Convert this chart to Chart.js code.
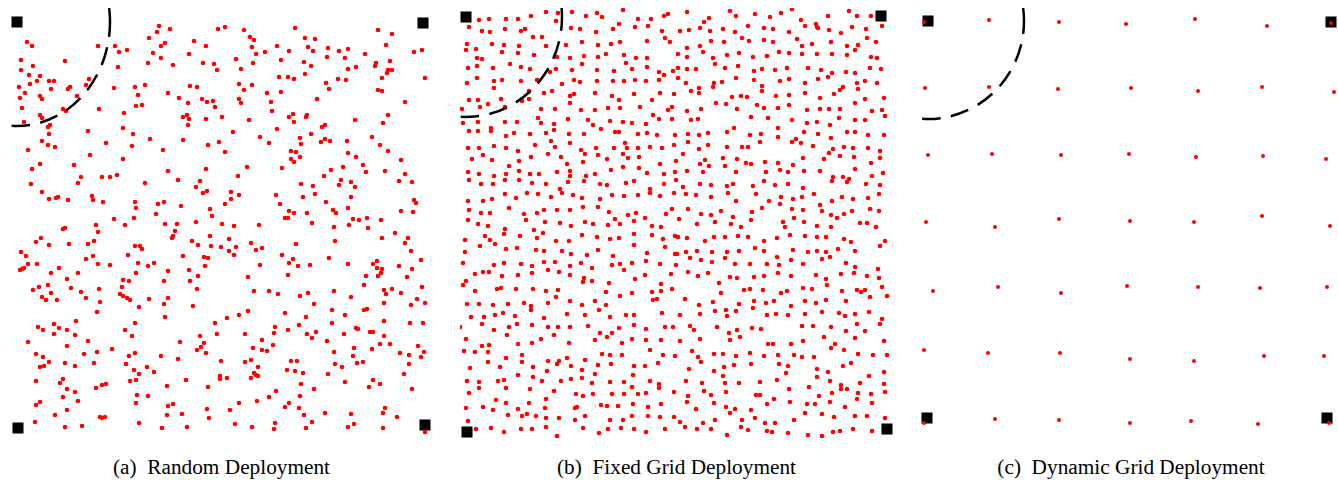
<!DOCTYPE html>
<html>
<head>
<meta charset="utf-8">
<script src="https://cdn.jsdelivr.net/npm/chart.js@4.4.1/dist/chart.umd.min.js"></script>
<style>
    body { margin: 0; background: #fff; width: 1338px; height: 480px; position: relative; overflow: hidden; }
    canvas { position: absolute; }
    .cap { position: absolute; top: 457px; font: 21.3px "Liberation Serif", "Times New Roman", serif; line-height: 21px; color: #000; white-space: nowrap; transform: translateX(-50%); }
</style>
</head>
<body>
<canvas id="chartA" width="430" height="432" style="left:7px;top:8px"></canvas>
<canvas id="chartB" width="440" height="432" style="left:460px;top:8px"></canvas>
<canvas id="chartC" width="420" height="432" style="left:920px;top:8px"></canvas>
<div class="cap" id="capA" style="left:221.5px"></div>
<div class="cap" id="capB" style="left:676.5px"></div>
<div class="cap" id="capC" style="left:1131px"></div>
<script>
// --- Data (field units, y grows downwards) ---
const subLabels = ['(a)', '(b)', '(c)'];
const captions = ['Random Deployment', 'Fixed Grid Deployment', 'Dynamic Grid Deployment'];

// sinks sit at the four corners of each field
const sinksA = [[17,22],[423,23],[18,428],[425,425]];
const sinksB = [[11,17],[426,16],[12,432],[432,429]];
const sinksC = [[18,21],[421,22],[17,418],[417,418]];

// communication range of the top-left sink (x radius, y radius)
const rangeA = [93, 104];
const rangeB = [96, 100];
const rangeC = [96, 98];

const nodesA = [
[159,26],[157,32],[170,29],[149,38],
[27,42],[32,46],[98,46],[115,46],[119,52],[127,50],[161,46],[165,43],[194,41],[206,46],
[153,53],[161,58],[189,54],[21,60],[65,61],[33,66],[21,70],[148,63],[173,65],[118,67],[203,63],[214,64],[217,70],
[29,75],[40,76],[37,81],[49,81],[54,81],[89,79],[30,84],[19,87],[51,89],[68,89],[70,87],[86,85],[114,88],[135,87],[145,85],[190,86],[197,87],
[25,93],[20,98],[40,96],[42,99],[77,96],[138,95],[168,93],[179,98],[202,99],[207,102],[213,101],[188,103],[136,106],[142,105],[215,107],
[22,108],[63,109],[66,111],[99,109],[124,113],[40,115],[42,118],[183,117],[187,115],[189,119],[206,119],[188,125],
[24,122],[50,125],[48,127],[123,128],[88,131],[133,134],[49,134],
[42,141],[48,145],[55,147],[106,143],[150,139],[183,140],[132,146],[208,145],[163,150],[28,150],
[90,155],[123,159],[40,164],[32,169],[74,165],[206,169],[168,171],
[81,177],[78,183],[102,177],[110,177],[117,175],[178,180],[200,181],[196,187],[31,184],[145,183],
[42,192],[203,193],[207,191],
[49,199],[56,198],[58,197],[68,200],[92,196],[93,200],[103,202],[135,202],[164,202],[158,204],[181,206],[210,209],
[136,208],[156,214],[212,216],
[218,29],[225,27],[244,30],[250,37],[254,40],[252,47],[256,54],[265,52],[236,59],[241,69],[253,63],[277,46],[281,60],[289,51],[295,28],[305,38],[315,39],[308,47],[313,51],[304,62],[311,66],[328,48],[339,51],[348,49],[327,57],[345,58],[348,69],[356,67],[365,54],[378,30],[392,34],[386,45],[376,63],[375,66],[390,61],[388,70],[392,70],[387,73],[382,78],[414,52],[422,50],[425,78],
[239,84],[244,90],[252,85],[279,77],[288,77],[294,79],[305,74],[326,83],[329,89],[338,79],[346,80],[267,93],[281,92],[271,102],[272,111],[317,99],[378,90],[382,91],[405,102],
[239,99],[241,103],[222,117],[249,120],[289,117],[293,114],[294,122],[306,117],[307,115],[277,129],[322,127],[325,125],[355,120],[383,123],[388,115],
[233,132],[219,142],[225,152],[260,137],[269,143],[300,138],[301,144],[311,134],[321,142],[325,139],[330,141],[347,141],[372,137],[380,145],[388,151],[348,153],[356,157],[291,151],[296,152],[300,157],[291,159],[294,162],
[247,167],[238,176],[282,168],[324,176],[331,170],[343,167],[363,165],[366,172],[385,171],[401,160],[405,174],[399,181],[412,182],[301,184],[313,186],[341,180],[339,185],[351,182],[355,187],
[231,192],[231,199],[239,195],[276,195],[303,197],[315,194],[326,202],[351,197],[414,200],[416,203],[225,204],[280,204],
[289,211],[294,213],[307,213],[333,210],[336,213],[348,208],[401,211],[413,212],
[114,219],[134,218],[125,225],[96,225],[98,232],[65,228],[63,229],[36,242],[41,238],[49,245],[69,244],[88,244],[94,241],[165,224],[177,224],[175,231],[173,236],[172,238],[196,222],[210,236],[192,241],[198,245],[211,246],
[21,252],[26,256],[28,264],[37,264],[20,270],[24,268],[22,269],[51,273],[59,268],[78,273],[86,259],[93,256],[98,264],[110,265],[128,255],[135,246],[140,246],[142,249],[138,263],[148,266],[154,263],[136,273],[183,256],[204,257],[208,258],[205,266],[189,270],[198,276],[190,281],[168,271],[164,281],
[33,290],[39,287],[48,285],[51,293],[42,297],[46,300],[57,300],[67,279],[71,288],[81,292],[86,298],[99,289],[100,302],[97,312],[123,280],[129,281],[122,287],[120,294],[123,296],[127,298],[130,300],[139,307],[149,299],[168,298],[164,304],[165,317],[197,289],[193,306],
[38,327],[43,330],[54,324],[54,334],[59,328],[67,330],[76,321],[75,335],[88,341],[67,346],[28,342],[36,354],[43,357],[49,362],[40,367],[44,366],[65,363],[75,366],[84,354],[94,363],[97,352],[112,349],[126,364],[129,356],[135,353],[125,330],[132,336],[135,323],[134,370],[139,374],[147,367],[154,372],[161,356],[178,359],[180,342],[200,336],[204,343],[201,347],[197,350],[206,353],[215,323],
[36,381],[63,379],[60,383],[67,389],[75,392],[63,397],[78,401],[96,388],[102,385],[106,384],[130,381],[136,380],[137,395],[148,396],[136,403],[167,386],[186,380],[208,387],
[36,405],[40,402],[67,410],[55,415],[35,422],[65,427],[82,426],[100,417],[102,418],[105,417],[139,423],[162,428],[168,406],[173,404],[167,415],[182,414],[187,427],[207,409],[209,418],
[285,218],[288,218],[312,223],[334,227],[349,225],[353,219],[359,220],[367,218],[368,228],[381,220],[222,224],[234,226],[259,225],
[229,239],[221,247],[229,251],[234,255],[236,247],[251,243],[256,250],[262,248],[296,244],[335,241],[382,238],[395,233],[408,238],[405,243],[411,251],
[282,255],[289,263],[293,259],[298,266],[288,275],[310,265],[329,258],[348,264],[373,264],[377,261],[377,268],[382,269],[381,273],[378,276],[366,276],[399,266],[412,269],[421,260],[407,277],[260,265],[248,277],
[254,291],[269,291],[278,294],[300,296],[308,293],[314,304],[334,291],[351,297],[364,285],[384,290],[386,294],[392,289],[401,293],[384,303],[411,305],[417,299],[422,287],[425,303],
[227,318],[239,315],[248,311],[285,313],[306,317],[332,310],[345,315],[364,310],[367,309],[217,334],[245,334],[274,333],[275,327],[288,330],[299,325],[307,334],[316,332],[312,338],[332,323],[344,334],[356,328],[358,329],[370,332],[373,332],[384,321],[384,336],[390,344],[380,344],[410,323],[423,323],
[262,340],[253,348],[262,350],[267,351],[273,345],[327,341],[334,352],[353,356],[354,348],[372,349],[400,353],[409,355],[418,346],[424,352],[421,357],[409,364],
[221,361],[245,362],[251,360],[258,367],[254,373],[256,375],[258,376],[251,378],[291,361],[297,361],[287,370],[295,371],[303,373],[335,364],[342,367],[357,363],[363,362],[328,374],[345,382],[373,380],[369,387],[380,384],[404,374],[412,389],
[220,376],[220,379],[227,378],[301,384],[314,389],[276,391],[269,397],[300,396],[257,401],[239,403],[230,410],[285,407],[289,403],[299,408],[304,415],[325,413],[351,414],[385,408],[383,413],[397,417],
[235,424],[252,427],[275,423],[274,429],[306,428],[312,422],[348,427],[354,424],[383,428],[425,432]
];

const nodesB = [
[24,20],[34,19],[51,19],[63,19],[76,16],[91,12],[101,21],[103,13],[117,12],[131,16],[142,13],[147,17],[168,10],[183,19],[196,19],[209,16],[213,14],
[14,27],[27,31],[35,32],[50,29],[66,31],[70,29],[116,28],[125,29],[141,32],[158,29],[164,24],[180,27],[193,26],[207,31],
[12,44],[11,50],[21,49],[37,44],[49,45],[64,46],[78,37],[87,37],[91,46],[111,45],[127,42],[143,45],[156,44],[165,42],[192,41],[210,38],[215,42],
[27,59],[22,58],[47,52],[63,53],[79,55],[102,57],[115,58],[129,56],[143,57],[151,54],[169,55],[181,58],[192,58],[171,63],
[13,68],[22,66],[38,68],[55,64],[66,67],[75,69],[95,72],[101,69],[117,70],[127,64],[142,70],[159,71],[177,69],[192,67],[204,72],[218,71],
[12,83],[22,78],[39,81],[39,88],[47,80],[66,81],[82,80],[107,84],[119,80],[125,82],[142,81],[158,81],[169,81],[180,80],[191,81],[204,80],[209,75],
[14,100],[23,100],[46,99],[67,101],[74,99],[74,91],[89,93],[97,91],[115,96],[119,94],[140,93],[157,96],[164,100],[179,94],[197,100],[205,93],[219,94],
[7,109],[25,107],[33,104],[50,107],[86,109],[100,109],[115,103],[126,110],[140,110],[153,108],[165,108],[185,107],[198,115],[213,110],[217,107],
[8,123],[23,122],[36,128],[50,122],[62,122],[83,118],[86,123],[99,124],[113,119],[133,120],[138,125],[146,129],[155,121],[168,122],[177,123],[191,124],[204,119],[217,119],
[14,131],[23,131],[36,131],[51,136],[59,133],[75,134],[91,133],[99,130],[114,134],[129,134],[160,132],[164,132],[183,134],[192,133],[202,135],
[13,148],[24,148],[39,146],[51,148],[63,151],[80,145],[96,141],[100,147],[115,143],[126,150],[130,154],[141,148],[143,155],[159,148],[170,143],[172,148],[183,148],[195,147],[207,148],[219,145],
[17,159],[28,155],[37,160],[64,161],[76,157],[93,154],[106,157],[112,164],[128,162],[152,159],[168,154],[173,158],[184,157],[205,164],
[13,172],[24,174],[39,176],[51,174],[54,166],[64,171],[75,174],[84,174],[102,172],[115,171],[115,176],[131,176],[140,174],[156,170],[168,167],[184,168],[192,173],[209,174],[220,172],
[14,180],[26,184],[38,184],[50,180],[64,180],[77,183],[91,184],[113,182],[129,181],[145,184],[152,185],[171,183],[179,181],[209,184],
[13,201],[28,201],[37,199],[50,194],[61,198],[72,193],[83,194],[96,197],[105,189],[107,193],[118,195],[127,198],[145,199],[157,195],[169,196],[183,195],[195,189],[195,193],[205,196],[219,193],
[14,210],[26,213],[35,213],[54,208],[69,214],[82,213],[89,210],[102,210],[115,210],[128,207],[143,207],[154,212],[160,219],[173,215],[181,213],[190,218],[211,214],[217,209],
[232,12],[275,11],[281,16],[300,14],[315,17],[326,13],[337,9],[346,20],[350,26],[361,24],[362,27],[373,16],[394,11],[402,16],[416,16],[427,26],
[225,31],[234,30],[245,28],[249,22],[254,18],[255,31],[268,29],[280,32],[287,38],[293,26],[294,41],[309,28],[309,40],[318,29],[318,42],[334,32],[342,39],[347,46],[357,44],[363,28],[374,30],[376,42],[386,33],[397,27],[411,29],[412,38],[421,42],[403,45],[392,46],[400,50],
[223,54],[232,48],[232,57],[245,46],[248,52],[256,41],[258,58],[260,64],[269,42],[272,55],[284,53],[298,57],[312,56],[324,52],[334,53],[347,54],[362,54],[377,54],[392,55],[416,57],[422,58],
[223,68],[232,69],[241,69],[270,68],[283,66],[299,71],[307,69],[320,70],[332,68],[353,68],[366,70],[377,73],[373,77],[391,72],[400,73],[415,68],[426,69],
[223,78],[231,83],[236,91],[244,88],[244,93],[258,87],[259,83],[267,82],[281,78],[299,80],[307,86],[307,91],[325,81],[334,79],[350,83],[350,93],[363,79],[379,94],[385,90],[388,87],[402,83],[403,89],[410,81],[422,83],
[232,111],[236,120],[246,109],[243,119],[261,103],[271,104],[277,97],[286,96],[292,97],[282,109],[302,105],[309,108],[296,117],[313,118],[321,96],[323,108],[334,95],[334,105],[337,120],[352,110],[352,123],[362,122],[365,98],[365,109],[374,109],[375,125],[384,118],[385,109],[400,103],[400,120],[410,99],[410,120],[417,111],[427,110],[430,116],[429,98],
[220,135],[233,134],[233,142],[244,135],[253,133],[244,149],[253,145],[272,132],[272,147],[279,128],[295,135],[287,147],[293,147],[305,142],[306,134],[323,128],[323,137],[337,142],[341,139],[346,143],[349,132],[358,146],[363,134],[376,138],[378,149],[374,153],[385,156],[389,147],[392,132],[400,132],[398,148],[399,157],[413,135],[413,148],[425,151],[425,158],[429,135],
[221,161],[228,154],[232,171],[245,164],[248,172],[250,160],[254,166],[268,158],[270,166],[282,159],[281,172],[291,163],[296,164],[310,162],[311,172],[323,163],[325,170],[333,172],[338,165],[348,158],[349,171],[365,171],[369,159],[377,181],[378,177],[388,177],[392,182],[394,179],[400,169],[416,163],[417,176],[428,173],
[221,180],[228,187],[231,194],[245,184],[256,185],[256,197],[241,195],[272,186],[273,193],[278,184],[281,201],[298,186],[301,194],[309,181],[320,185],[326,197],[333,184],[338,199],[348,188],[347,197],[359,194],[365,205],[377,201],[387,197],[398,199],[411,184],[413,198],[425,185],[424,194],
[233,209],[224,219],[246,214],[256,215],[266,211],[278,217],[297,212],[307,208],[314,201],[325,204],[337,209],[339,218],[348,210],[367,211],[376,215],[382,218],[389,214],[397,211],[415,209],[424,211],
[13,220],[23,224],[33,226],[50,229],[71,220],[90,222],[105,223],[116,226],[130,222],[138,224],[153,225],[165,224],[179,221],[197,226],[206,227],
[30,236],[35,240],[40,244],[49,234],[65,236],[79,230],[88,233],[82,238],[10,240],[25,246],[51,249],[62,248],[81,250],[89,251],[101,241],[107,251],[114,241],[116,254],[127,235],[142,237],[143,250],[155,239],[164,238],[179,245],[179,234],[197,235],[208,239],[210,247],[220,236],
[10,252],[8,263],[11,281],[8,285],[20,274],[28,272],[34,272],[39,265],[49,263],[47,276],[63,275],[66,264],[77,266],[77,273],[89,262],[100,262],[93,270],[104,272],[115,266],[115,275],[126,263],[137,268],[132,255],[129,278],[128,282],[137,281],[158,256],[157,265],[165,264],[169,270],[177,263],[191,261],[192,253],[205,264],[220,254],[216,274],[206,284],[190,275],[180,279],[154,283],
[20,291],[42,289],[46,288],[61,289],[78,289],[91,291],[103,290],[101,297],[115,301],[127,305],[140,301],[151,305],[151,292],[165,296],[177,293],[197,292],[206,291],[198,300],[202,299],[217,289],[12,304],[24,304],[38,305],[53,304],[69,303],[76,306],[76,310],[93,303],[16,317],[29,317],[40,315],[48,313],[60,316],[62,324],[54,327],[27,324],[39,330],[77,325],[89,318],[93,327],[99,335],[103,327],[112,314],[115,327],[130,315],[133,326],[144,310],[155,317],[171,315],[179,315],[164,328],[145,333],[157,333],[152,337],[179,325],[191,329],[207,313],[210,327],[218,327],[5,327],
[11,339],[9,351],[20,352],[27,346],[34,345],[33,352],[33,362],[52,335],[51,358],[45,367],[63,344],[67,355],[67,362],[77,343],[86,339],[78,367],[93,361],[102,364],[104,361],[114,343],[112,358],[116,366],[130,360],[127,370],[140,340],[147,354],[155,355],[156,364],[143,365],[167,343],[167,355],[177,339],[179,366],[191,340],[195,350],[206,340],[208,355],[203,363],[190,366],[220,356],[15,368],
[12,381],[24,382],[24,388],[14,393],[43,381],[49,380],[51,388],[63,375],[78,377],[87,381],[75,389],[92,371],[106,381],[99,391],[116,379],[127,378],[140,374],[137,383],[155,382],[169,382],[177,387],[178,375],[195,381],[204,384],[204,388],[191,393],[219,392],[41,400],[51,403],[74,403],[91,399],[121,394],[128,396],[138,394],[157,394],[169,394],[183,394],[11,408],[28,407],[38,410],[53,415],[63,409],[67,416],[72,414],[81,416],[90,408],[91,418],[104,418],[120,408],[122,407],[120,420],[130,416],[146,405],[152,406],[163,406],[155,420],[168,420],[177,416],[178,404],[193,407],[193,416],[206,404],[205,417],[219,417],
[13,421],[21,429],[36,428],[49,432],[66,429],[77,429],[91,427],[102,436],[128,428],[144,433],[153,429],[166,428],[179,429],[191,432],[210,429],
[242,224],[260,222],[276,224],[286,227],[296,220],[328,222],[330,227],[349,222],[362,226],[376,227],[405,223],[412,223],[421,227],
[223,237],[232,238],[250,241],[259,237],[270,237],[283,236],[293,237],[309,241],[322,238],[335,235],[350,236],[362,237],[371,237],[389,239],[396,242],[430,241],[425,246],
[222,254],[231,252],[235,258],[242,251],[246,260],[257,252],[257,262],[272,252],[270,258],[284,251],[280,264],[295,264],[300,248],[309,251],[312,264],[322,257],[324,265],[338,250],[336,260],[348,264],[353,252],[362,251],[371,252],[367,259],[375,257],[383,249],[391,263],[400,251],[400,267],[412,276],[423,269],[424,278],
[221,265],[233,272],[243,276],[253,273],[264,283],[266,293],[275,277],[282,278],[289,290],[295,289],[299,277],[308,290],[309,276],[323,273],[326,293],[332,291],[336,276],[348,288],[357,289],[361,275],[371,279],[372,285],[386,274],[387,291],[399,273],[402,290],[406,292],[410,290],[415,297],[427,287],[432,296],
[230,299],[244,305],[245,314],[258,302],[260,311],[271,310],[272,316],[281,311],[284,304],[299,301],[298,308],[311,303],[319,301],[312,315],[321,314],[333,315],[336,306],[350,301],[350,314],[361,303],[371,300],[367,312],[384,313],[391,301],[390,316],[400,314],[414,312],[427,319],[425,324],[225,315],
[235,326],[239,330],[245,339],[262,327],[274,333],[282,330],[285,337],[275,340],[297,328],[306,329],[313,344],[318,344],[336,344],[347,326],[348,341],[358,326],[369,337],[376,327],[376,348],[380,344],[391,331],[402,324],[400,338],[410,331],[429,341],[225,341],
[237,351],[243,357],[246,362],[259,354],[268,354],[281,356],[269,367],[279,365],[295,353],[296,364],[309,356],[323,355],[324,364],[333,366],[339,355],[347,357],[359,357],[331,373],[362,369],[362,377],[373,372],[389,350],[388,366],[396,363],[403,354],[418,355],[432,355],[414,376],[429,372],[234,369],[259,371],[268,376],[247,383],[231,381],[270,383],[284,383],[305,382],[322,380],[354,387],[375,381],[386,385],[386,389],[405,383],[429,384],
[233,396],[232,402],[249,391],[256,395],[259,403],[271,392],[271,407],[280,409],[301,395],[305,395],[296,410],[312,404],[319,399],[334,389],[335,402],[352,404],[360,404],[364,396],[377,393],[375,402],[392,389],[402,399],[403,393],[416,394],[417,403],[430,392],[241,409],[275,413],[287,420],[300,418],[310,423],[320,423],[339,420],[350,413],[367,414],[379,417],[390,407],[400,416],[412,416],[430,418],
[225,422],[230,427],[242,429],[248,423],[256,429],[260,420],[272,435],[286,427],[293,430],[312,431],[317,432],[333,433],[353,435],[367,436],[378,432],[385,431],[398,429],[417,431]
];

const nodesC = [
[14,22],[79,20],[149,22],[216,24],[285,19],[357,26],[421,23],
[15,88],[79,87],[148,89],[221,88],[288,91],[352,87],[424,92],
[18,155],[82,154],[151,155],[219,154],[286,157],[353,156],[416,159],
[16,222],[85,227],[149,219],[220,221],[284,222],[352,216],[420,226],
[23,291],[88,287],[151,293],[217,286],[288,287],[350,288],[417,287],
[14,350],[78,353],[150,353],[220,359],[284,361],[354,356],[414,356],
[14,423],[85,419],[149,420],[220,423],[281,421],[348,424],[419,423]
];

// dashed range circle around the first sink, clipped to the plot box
const rangeArc = {
    id: 'rangeArc',
    afterDatasetsDraw(chart, args, opts) {
        if (!opts.radius) return;
        const { ctx, chartArea: a, scales: { x, y } } = chart;
        const cx = x.getPixelForValue(opts.center[0]);
        const cy = y.getPixelForValue(opts.center[1]);
        const rx = Math.abs(x.getPixelForValue(opts.center[0] + opts.radius[0]) - cx);
        const ry = Math.abs(y.getPixelForValue(opts.center[1] + opts.radius[1]) - cy);
        const start = Math.asin(Math.max(-1, Math.min(1, (a.top - cy) / ry)));
        const end = Math.acos(Math.max(-1, Math.min(1, (a.left - cx) / rx)));
        const pattern = [opts.firstDash];
        for (let i = 0; i < 12; i++) pattern.push(opts.gap, opts.dash);

        ctx.save();
        ctx.beginPath();
        ctx.rect(a.left, a.top, a.width, a.height);
        ctx.clip();
        ctx.beginPath();
        ctx.ellipse(cx, cy, rx, ry, 0, start, end);
        ctx.setLineDash(pattern);
        ctx.lineWidth = opts.width;
        ctx.strokeStyle = '#000';
        ctx.stroke();
        ctx.restore();
    }
};

function makePanel(canvasId, nodes, sinks, range, view, dotRadius, firstDash) {
    const toXY = p => ({ x: p[0], y: p[1] });
    return new Chart(document.getElementById(canvasId), {
        type: 'scatter',
        data: {
            datasets: [
                {
                    data: nodes.map(toXY),
                    backgroundColor: '#ff0000',
                    borderWidth: 0,
                    pointRadius: dotRadius,
                    clip: false
                },
                {
                    data: sinks.map(toXY),
                    pointStyle: 'rect',
                    pointRadius: 7.8,
                    backgroundColor: '#000',
                    borderWidth: 0,
                    clip: false
                }
            ]
        },
        options: {
            responsive: false,
            animation: false,
            events: [],
            layout: { padding: 0, autoPadding: false },
            scales: {
                x: { type: 'linear', display: false, min: view[0], max: view[1] },
                y: { type: 'linear', display: false, reverse: true, min: view[2], max: view[3] }
            },
            plugins: {
                legend: { display: false },
                tooltip: { enabled: false },
                rangeArc: { center: sinks[0], radius: range, firstDash: firstDash, dash: 18.5, gap: 10.5, width: 2.5 }
            }
        },
        plugins: [rangeArc]
    });
}

makePanel('chartA', nodesA, sinksA, rangeA, [7, 437, 8, 440], 2.3, 29);
makePanel('chartB', nodesB, sinksB, rangeB, [5, 445, 8, 440], 2.3, 23);
makePanel('chartC', nodesC, sinksC, rangeC, [10, 430, 8, 440], 2, 26);

// subfigure captions, label followed by an en space as in the paper
['capA', 'capB', 'capC'].forEach((id, i) => {
    document.getElementById(id).textContent = subLabels[i] + '\u2002' + captions[i];
});
</script>
</body>
</html>
